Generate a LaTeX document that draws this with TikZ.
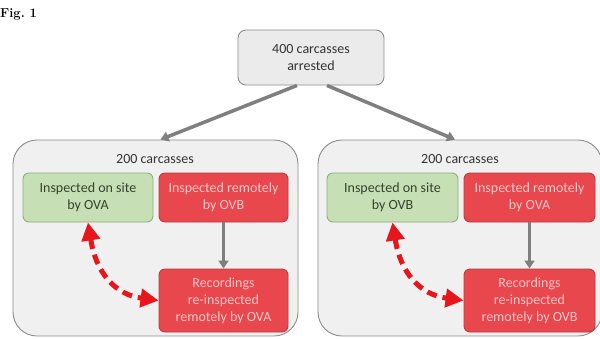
\documentclass[tikz,border=0pt]{standalone}
\usepackage{fontspec}
\newfontfamily\carlito{Carlito}
\usetikzlibrary{arrows.meta,calc}
\definecolor{outerfill}{HTML}{F0F0F0}
\definecolor{outerdraw}{HTML}{8C8C8C}
\definecolor{topfill}{HTML}{EBEBEB}
\definecolor{greenfill}{HTML}{C6DFB5}
\definecolor{greendraw}{HTML}{8FB07F}
\definecolor{greentext}{HTML}{34432F}
\definecolor{redfill}{HTML}{E8474D}
\definecolor{reddraw}{HTML}{BF3A3F}
\definecolor{redtext}{HTML}{F6C6C7}
\definecolor{arrowgrey}{HTML}{7F7F7F}
\definecolor{dashred}{HTML}{E8161C}
\definecolor{darktext}{HTML}{333333}
\begin{document}
\begin{tikzpicture}[x=1pt,y=-1pt,
  boxtext/.style={font=\carlito\fontsize{14}{16.5}\selectfont, align=center, inner sep=0pt},
  outerbox/.style={draw=outerdraw, fill=outerfill, line width=0.9pt, rounded corners=24pt, inner sep=0pt, minimum height=196pt},
  topbox/.style={boxtext, draw=outerdraw, fill=topfill, line width=0.9pt, rounded corners=8pt, minimum width=146pt, minimum height=55pt, text=darktext},
  greenbox/.style={boxtext, draw=greendraw, fill=greenfill, line width=0.9pt, rounded corners=6pt, minimum width=130pt, minimum height=49pt, text=greentext},
  redbox/.style={boxtext, draw=reddraw, fill=redfill, line width=0.9pt, rounded corners=6pt, minimum width=129pt, text=redtext},
  greyarrow/.style={draw=arrowgrey, line width=3.5pt, -{Triangle[length=8pt,width=10pt]}},
  dasharrow/.style={draw=dashred, line width=5pt, dash pattern=on 10pt off 6pt,
     {Triangle[length=18pt,width=18pt]}-{Triangle[length=18pt,width=18pt]}}
]
\useasboundingbox[fill=white] (0,0) rectangle (600,338);

\node[anchor=base west, inner sep=0pt, font=\bfseries\fontsize{13}{15}\selectfont, text=black] (fig) at (0,17) {Fig.\ 1};

\node[topbox] (top) at (311,57.5) {400 carcasses\\arrested};

% left group
\node[outerbox, minimum width=285pt] (L) at (155.5,238) {};
\node[boxtext, text=darktext] (Lt) at (155,159) {200 carcasses};
\node[greenbox] (Lg) at (88,197.5) {Inspected on site\\by OVA};
\node[redbox, minimum height=49pt] (Lr) at (223.5,197.5) {Inspected remotely\\by OVB};
\node[redbox, minimum height=63pt, font=\carlito\fontsize{14}{17}\selectfont] (Lb) at (223.5,300.5) {Recordings\\re-inspected\\remotely by OVA};

% right group
\node[outerbox, minimum width=284pt] (R) at (460,238) {};
\node[boxtext, text=darktext] (Rt) at (460,159) {200 carcasses};
\node[greenbox, minimum width=131pt] (Rg) at (392.5,197.5) {Inspected on site\\by OVB};
\node[redbox, minimum width=131pt, minimum height=49pt] (Rr) at (529.5,197.5) {Inspected remotely\\by OVA};
\node[redbox, minimum width=131pt, minimum height=63pt, font=\carlito\fontsize{14}{17}\selectfont] (Rb) at (529.5,300.5) {Recordings\\re-inspected\\remotely by OVB};

% connectors
\draw[greyarrow] ([xshift=-14pt]top.south) -- ([xshift=5pt]L.north);
\draw[greyarrow] ([xshift=16pt]top.south) -- ([xshift=-5pt]R.north);
\draw[greyarrow] (Lr.south) -- (Lb.north);
\draw[greyarrow] (Rr.south) -- (Rb.north);

\draw[dasharrow] (Lg.south) .. controls +(8,50) and +(-44,-6) .. (Lb.west);
\draw[dasharrow] (Rg.south) .. controls +(8,50) and +(-44,-6) .. (Rb.west);
\end{tikzpicture}
\end{document}
